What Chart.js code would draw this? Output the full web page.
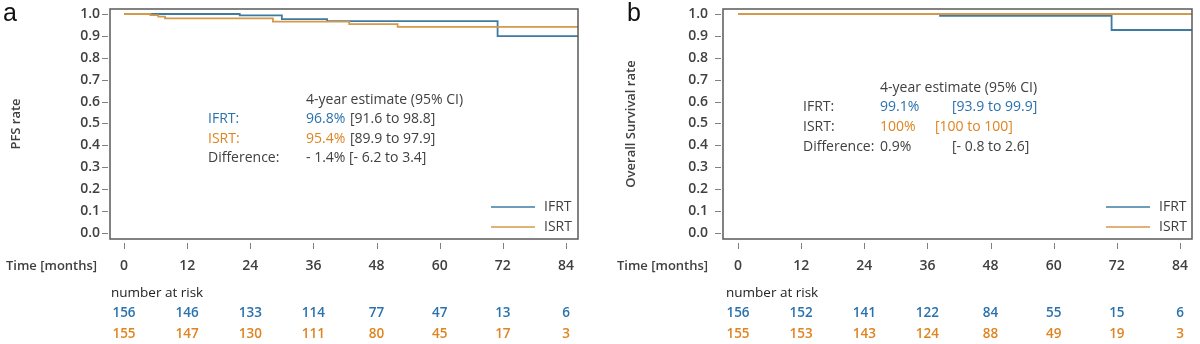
<!DOCTYPE html>
<html><head><meta charset="utf-8">
<script src="https://cdn.jsdelivr.net/npm/chart.js@4.4.1/dist/chart.umd.min.js"></script>
<style>
html,body{margin:0;padding:0;background:#fff;width:1200px;height:344px;overflow:hidden}
.p{position:absolute;top:0;width:600px;height:344px}
</style></head><body>
<div class="p" style="left:0"><canvas id="ca"></canvas></div>
<div class="p" style="left:600px"><canvas id="cb"></canvas></div>
<script>
// ---- data ----
const months = [0, 12, 24, 36, 48, 60, 72, 84];
const rateTicks = [0.0, 0.1, 0.2, 0.3, 0.4, 0.5, 0.6, 0.7, 0.8, 0.9, 1.0];
const seriesNames = ['IFRT', 'ISRT'];

// Panel a: PFS
const pfsIfrtTime = [0, 22, 30, 38.6, 71, 86.3];
const pfsIfrtRate = [1.0, 0.994, 0.977, 0.967, 0.899, 0.899];
const pfsIsrtTime = [0, 5, 6.5, 7.8, 28.3, 42.8, 52, 86.3];
const pfsIsrtRate = [1.0, 0.995, 0.988, 0.980, 0.965, 0.954, 0.941, 0.941];
const pfsRiskIfrt = [156, 146, 133, 114, 77, 47, 13, 6];
const pfsRiskIsrt = [155, 147, 130, 111, 80, 45, 17, 3];

// Panel b: Overall survival
const osIfrtTime = [0, 38.4, 71, 86.3];
const osIfrtRate = [1.0, 0.991, 0.927, 0.927];
const osIsrtTime = [0, 86.3];
const osIsrtRate = [1.0, 1.0];
const osRiskIfrt = [156, 152, 141, 122, 84, 55, 15, 6];
const osRiskIsrt = [155, 153, 143, 124, 88, 49, 19, 3];

// ---- style ----
const BLUE_LINE = '#3f7ba1', ORANGE_LINE = '#d4994a';
const BLUE_TXT = '#2a72ad', ORANGE_TXT = '#de8420', GRAY = '#404040';
const FONT = '"Open Sans", sans-serif';

function pts(t, r) { return t.map((x, i) => ({ x: x, y: r[i] })); }

function annotPlugin(o) {
  return {
    id: 'annot' + o.letter,
    afterDatasetsDraw(chart) {
      const ctx = chart.ctx, a = chart.chartArea, xs = chart.scales.x;
      ctx.save();
      // plot box
      ctx.strokeStyle = '#5a5a5a'; ctx.lineWidth = 1.5;
      ctx.strokeRect(a.left, a.top, a.right - a.left, a.bottom - a.top);
      // tick marks
      ctx.strokeStyle = '#808080'; ctx.lineWidth = 1;
      months.forEach(m => {
        const x = Math.round(xs.getPixelForValue(m)) + 0.5;
        ctx.beginPath(); ctx.moveTo(x, a.bottom + 4); ctx.lineTo(x, a.bottom + 10); ctx.stroke();
      });
      rateTicks.forEach(v => {
        const y = Math.round(chart.scales.y.getPixelForValue(v)) + 0.5;
        ctx.beginPath(); ctx.moveTo(a.left - 8, y); ctx.lineTo(a.left - 2, y); ctx.stroke();
      });
      // panel letter
      ctx.fillStyle = '#111'; ctx.font = '25px "Liberation Sans", Arial, sans-serif';
      ctx.textBaseline = 'alphabetic'; ctx.textAlign = 'left';
      ctx.fillText(o.letter, o.letterX, 21);
      // y title
      ctx.save();
      ctx.translate(o.yTitleX, (a.top + a.bottom) / 2);
      ctx.rotate(-Math.PI / 2);
      ctx.textAlign = 'center'; ctx.textBaseline = 'middle';
      ctx.fillStyle = GRAY; ctx.font = '600 13px ' + FONT;
      ctx.fillText(o.yTitle, 0, 0);
      ctx.restore();
      // time label
      ctx.fillStyle = GRAY; ctx.font = '600 13px ' + FONT;
      ctx.textAlign = 'left'; ctx.textBaseline = 'middle';
      ctx.fillText('Time [months]', o.timeX, 266);
      // number at risk
      ctx.font = '13.5px ' + FONT; ctx.fillStyle = '#222';
      ctx.fillText('number at risk', o.riskX, 293);
      ctx.font = '600 13.5px ' + FONT; ctx.textAlign = 'center';
      months.forEach((m, i) => {
        const x = xs.getPixelForValue(m);
        ctx.fillStyle = BLUE_TXT; ctx.fillText(String(o.riskA[i]), x, 313);
        ctx.fillStyle = ORANGE_TXT; ctx.fillText(String(o.riskB[i]), x, 334);
      });
      // legend
      ctx.lineWidth = 1.6;
      [[BLUE_LINE, seriesNames[0], 207], [ORANGE_LINE, seriesNames[1], 227]].forEach(([c, n, y]) => {
        ctx.strokeStyle = c;
        ctx.beginPath(); ctx.moveTo(o.legX, y); ctx.lineTo(o.legX + 44, y); ctx.stroke();
        ctx.fillStyle = GRAY; ctx.font = '14px ' + FONT; ctx.textAlign = 'left';
        ctx.fillText(n, o.legX + 53, y);
      });
      // estimate texts
      ctx.font = '14px ' + FONT; ctx.textAlign = 'left';
      o.texts.forEach(t => { ctx.fillStyle = t[3]; ctx.fillText(t[0], t[1], t[2]); });
      ctx.restore();
    }
  };
}

function makeChart(id, o) {
  const common = { font: { family: FONT, size: 14, weight: '600' }, color: GRAY };
  new Chart(document.getElementById(id), {
    type: 'line',
    data: {
      datasets: [
        { label: seriesNames[0], data: pts(o.tA, o.rA), borderColor: BLUE_LINE, borderWidth: 1.8, stepped: 'before', pointRadius: 0, fill: false, order: 2 },
        { label: seriesNames[1], data: pts(o.tB, o.rB), borderColor: ORANGE_LINE, borderWidth: 1.8, stepped: 'before', pointRadius: 0, fill: false, order: 1 }
      ]
    },
    options: {
      responsive: true, maintainAspectRatio: false, animation: false,
      layout: { padding: { left: o.padLeft, right: o.padRight, top: 9, bottom: 65 } },
      plugins: { legend: { display: false }, tooltip: { enabled: false } },
      scales: {
        x: {
          type: 'linear', min: o.xMin, max: o.xMax,
          grid: { display: false, drawTicks: false }, border: { display: false },
          afterBuildTicks: s => { s.ticks = months.map(v => ({ value: v })); },
          afterFit: s => { s.height = 40; s.paddingLeft = 0; s.paddingRight = 0; },
          ticks: Object.assign({ padding: 19, maxRotation: 0, autoSkip: false, callback: v => String(v) }, common)
        },
        y: {
          min: -0.0274, max: 1.0228,
          grid: { display: false, drawTicks: false }, border: { display: false },
          afterBuildTicks: s => { s.ticks = rateTicks.map(v => ({ value: v })); },
          afterFit: s => { s.width = 60; s.paddingTop = 0; s.paddingBottom = 0; },
          ticks: Object.assign({ padding: o.yPad, callback: v => Number(v).toFixed(1) }, common)
        }
      }
    },
    plugins: [annotPlugin(o)]
  });
}

makeChart('ca', {
  letter: 'a', letterX: 3, yTitle: 'PFS rate', yTitleX: 16, timeX: 6, riskX: 111, legX: 491,
  tA: pfsIfrtTime, rA: pfsIfrtRate, tB: pfsIsrtTime, rB: pfsIsrtRate,
  riskA: pfsRiskIfrt, riskB: pfsRiskIsrt,
  padLeft: 50, padRight: 22, yPad: 10,
  xMin: -2.66, xMax: 86.28,
  texts: [
    ['4-year estimate (95% CI)', 306, 100, GRAY],
    ['IFRT:', 208, 119, BLUE_TXT], ['96.8%', 306, 119, BLUE_TXT], ['[91.6 to 98.8]', 350, 119, GRAY],
    ['ISRT:', 208, 139, ORANGE_TXT], ['95.4%', 306, 139, ORANGE_TXT], ['[89.9 to 97.9]', 350, 139, GRAY],
    ['Difference:', 208, 158, GRAY], ['- 1.4% [- 6.2 to 3.4]', 306, 158, GRAY]
  ]
});

makeChart('cb', {
  letter: 'b', letterX: 27, yTitle: 'Overall Survival rate', yTitleX: 31, timeX: 17, riskX: 126, legX: 506,
  tA: osIfrtTime, rA: osIfrtRate, tB: osIsrtTime, rB: osIsrtRate,
  riskA: osRiskIfrt, riskB: osRiskIsrt,
  padLeft: 63, padRight: 8, yPad: 15,
  xMin: -2.85, xMax: 86.28,
  texts: [
    ['4-year estimate (95% CI)', 280, 88, GRAY],
    ['IFRT:', 203, 107, GRAY], ['99.1%', 280, 107, BLUE_TXT], ['[93.9 to 99.9]', 352, 107, BLUE_TXT],
    ['ISRT:', 203, 127, GRAY], ['100%', 280, 127, ORANGE_TXT], ['[100 to 100]', 335, 127, ORANGE_TXT],
    ['Difference:', 203, 147, GRAY], ['0.9%', 280, 147, GRAY], ['[- 0.8 to 2.6]', 352, 147, GRAY]
  ]
});
</script>
</body></html>
